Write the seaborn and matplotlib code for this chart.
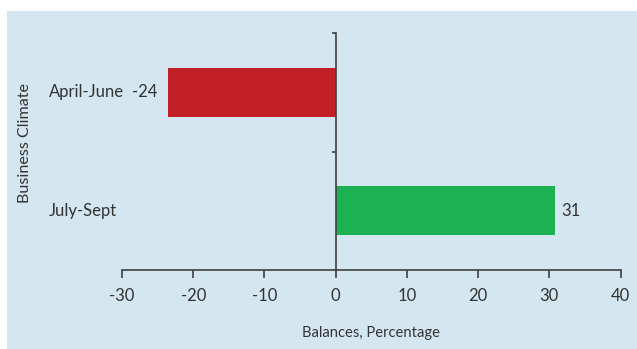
import matplotlib
matplotlib.use("Agg")
import matplotlib.pyplot as plt
import matplotlib.transforms as mtransforms
from matplotlib.patches import Rectangle
import seaborn as sns
import pandas as pd

categories = ["April-June", "July-Sept"]
values = [-23.6, 30.8]
value_labels = ["-24", "31"]
bar_colors = ["#c01f26", "#1db152"]
x_ticks = [-30, -20, -10, 0, 10, 20, 30, 40]
x_label = "Balances, Percentage"
y_label = "Business Climate"

sns.set_theme(style="white")
plt.rcParams["font.family"] = ["Lato", "DejaVu Sans"]

BG = "#d4e6ef"
TXT = "#333333"
AX = "#404040"

fig = plt.figure(figsize=(6.37, 3.49), dpi=100)
fig.patch.set_facecolor("white")
fig.patches.append(Rectangle((7 / 637, 0), 1 - 7 / 637, 1 - 11 / 349,
                             transform=fig.transFigure, facecolor=BG,
                             edgecolor="none", zorder=-10))
ax = fig.add_axes([122 / 637, 1 - 270 / 349, (620.5 - 122) / 637, (270 - 33) / 349])
ax.set_facecolor("none")

df = pd.DataFrame({"cat": categories, "val": values})
sns.barplot(data=df, x="val", y="cat", hue="cat", palette=bar_colors,
            orient="h", width=0.41, legend=False, ax=ax, saturation=1,
            linewidth=0, edgecolor="none")

ax.set_xlim(-30, 40)
ax.set_ylim(1.5, -0.5)
ax.set_xticks(x_ticks)
ax.set_xticklabels([str(t) for t in x_ticks], fontsize=12, color=TXT)
ax.tick_params(axis="x", direction="out", length=6, width=1.2, color=AX, pad=7, bottom=True)

ax.set_yticks([-0.5, 0.5])
ax.set_yticklabels(["", ""])
ax.tick_params(axis="y", direction="out", length=3, width=1.2, color=AX, left=True)

for s in ["top", "right"]:
    ax.spines[s].set_visible(False)
ax.spines["bottom"].set_color(AX)
ax.spines["bottom"].set_linewidth(1.2)
ax.spines["left"].set_position(("data", 0))
ax.spines["left"].set_color(AX)
ax.spines["left"].set_linewidth(1.2)
ax.spines["left"].set_zorder(5)

trans = mtransforms.blended_transform_factory(fig.transFigure, ax.transData)
for i, (c, v, lab) in enumerate(zip(categories, values, value_labels)):
    ax.text(49 / 637, i, c, transform=trans, ha="left", va="center",
            fontsize=12, color=TXT)
    if v < 0:
        ax.text(v - 1.5, i, lab, ha="right", va="center", fontsize=12, color=TXT)
    else:
        ax.text(v + 0.9, i, lab, ha="left", va="center", fontsize=12, color=TXT)

ax.set_xlabel(x_label, fontsize=10.6, color=TXT)
ax.xaxis.set_label_coords(0.5, -0.235)
ax.set_ylabel("")
fig.text(25 / 637, 1 - 143 / 349, y_label, rotation=90, ha="center", va="center",
         fontsize=11.6, color=TXT)

fig.savefig("out.png", dpi=100, facecolor=fig.get_facecolor())
